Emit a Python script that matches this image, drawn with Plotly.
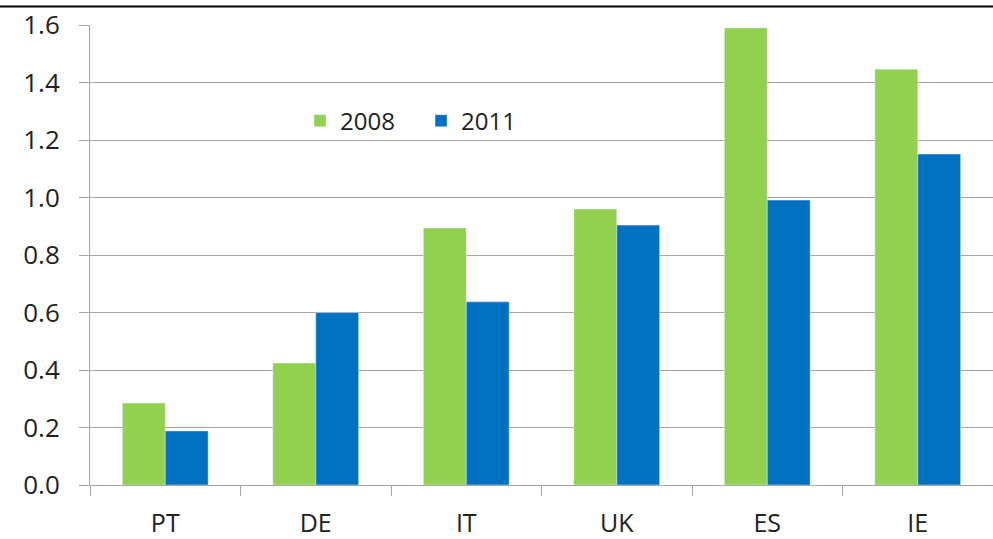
import plotly.graph_objects as go

categories = ["PT", "DE", "IT", "UK", "ES", "IE"]
values_2008 = [0.285, 0.424, 0.894, 0.96, 1.59, 1.446]
values_2011 = [0.188, 0.60, 0.637, 0.904, 0.991, 1.151]
y_ticks = [0, 0.2, 0.4, 0.6, 0.8, 1.0, 1.2, 1.4, 1.6]
y_labels = ["0.0", "0.2", "0.4", "0.6", "0.8", "1.0", "1.2", "1.4", "1.6"]

fig = go.Figure()
fig.add_trace(go.Bar(name="2008", x=categories, y=values_2008, marker_color="#92d050"))
fig.add_trace(go.Bar(name="2011", x=categories, y=values_2011, marker_color="#0070c0"))

fig.update_layout(
    width=993, height=539,
    margin=dict(l=90, r=0, t=25, b=54),
    paper_bgcolor="white", plot_bgcolor="white",
    barmode="group", bargap=0.43, bargroupgap=0,
    font=dict(family="Open Sans, Liberation Sans, sans-serif", size=24, color="#222"),
    legend=dict(orientation="h", x=0.2326, y=0.791, xanchor="left", yanchor="middle",
                font=dict(size=24), bgcolor="rgba(0,0,0,0)", itemwidth=30,
                tracegroupgap=0, entrywidth=76, entrywidthmode="pixels"),
    showlegend=True,
)
fig.update_xaxes(
    showline=True, linecolor="#a6a6a6", linewidth=1,
    ticks="outside", ticklen=10, tickcolor="#a6a6a6", tickson="boundaries",
    showgrid=False, tickfont=dict(size=25), ticklabelstandoff=16,
)
fig.update_yaxes(
    range=[0, 1.6], tickvals=y_ticks, ticktext=y_labels,
    showline=True, linecolor="#a6a6a6", linewidth=1,
    ticks="outside", ticklen=10, tickcolor="#a6a6a6",
    showgrid=True, gridcolor="#a6a6a6", gridwidth=1,
    tickfont=dict(size=26), zeroline=False, ticklabelstandoff=14,
)
fig.add_shape(type="line", xref="paper", yref="paper", x0=-0.2, x1=1.1, y0=1.04, y1=1.04,
              line=dict(color="black", width=2))
fig.write_html("out.html", post_script="document.body.style.margin='0';",
               config={"displayModeBar": False})
